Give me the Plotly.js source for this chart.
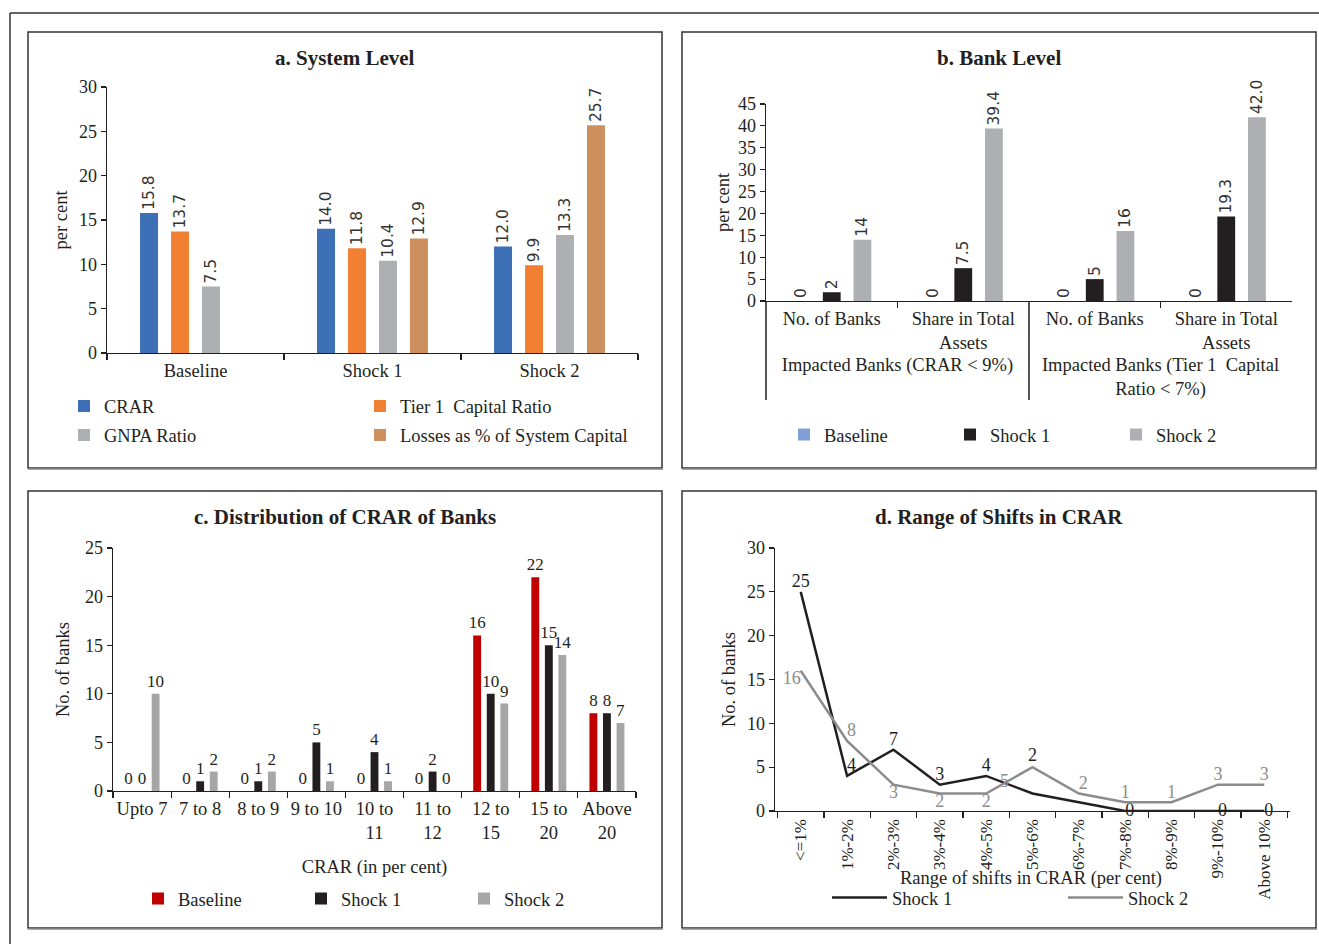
<!DOCTYPE html>
<html><head><meta charset="utf-8">
<script src="https://cdn.plot.ly/plotly-3.0.1.min.js"></script>
<style>html,body{margin:0;padding:0;background:#fff;overflow:hidden}#chart{width:1319px;height:944px}</style>
</head><body><div id="chart"></div>
<script>
// ---------- Panel a: System Level ----------
const aCategories = ['Baseline', 'Shock 1', 'Shock 2'];
const aCRAR   = [15.8, 14.0, 12.0];
const aTier1  = [13.7, 11.8, 9.9];
const aGNPA   = [7.5, 10.4, 13.3];
const aLosses = [null, 12.9, 25.7];

// ---------- Panel b: Bank Level ----------
const bGroups = ['Impacted Banks (CRAR &lt; 9%)', 'Impacted Banks (CRAR &lt; 9%)',
                 'Impacted Banks (Tier 1  Capital<br>Ratio &lt; 7%)', 'Impacted Banks (Tier 1  Capital<br>Ratio &lt; 7%)'];
const bSubs = ['No. of Banks', 'Share in Total<br>Assets', 'No. of Banks', 'Share in Total<br>Assets'];
const bBaseline = [0, 0, 0, 0];
const bShock1   = [2, 7.5, 5, 19.3];
const bShock2   = [14, 39.4, 16, 42.0];
const bBaselineLabels = ['0', '0', '0', '0'];
const bShock1Labels   = ['2', '7.5', '5', '19.3'];
const bShock2Labels   = ['14', '39.4', '16', '42.0'];

// ---------- Panel c: Distribution of CRAR of Banks ----------
const cCategories = ['Upto 7', '7 to 8', '8 to 9', '9 to 10', '10 to<br>11', '11 to<br>12', '12 to<br>15', '15 to<br>20', 'Above<br>20'];
const cBaseline = [0, 0, 0, 0, 0, 0, 16, 22, 8];
const cShock1   = [0, 1, 1, 5, 4, 2, 10, 15, 8];
const cShock2   = [10, 2, 2, 1, 1, 0, 9, 14, 7];

// ---------- Panel d: Range of Shifts in CRAR ----------
const dCategories = ['&lt;=1%', '1%-2%', '2%-3%', '3%-4%', '4%-5%', '5%-6%', '6%-7%', '7%-8%', '8%-9%', '9%-10%', 'Above 10%'];
const dShock1 = [25, 4, 7, 3, 4, 2, 1, 0, 0, 0, 0];
const dShock2 = [16, 8, 3, 2, 2, 5, 2, 1, 1, 3, 3];
const dShock1Labels = ['25', '4', '7', '3', '4', '2', '', '0', '', '0', '0'];
const dShock2Labels = ['16', '8', '3', '2', '2', '5', '2', '1', '1', '3', '3'];

// ---------- helpers / styles ----------
const W = 1319, H = 944;
const px = x => x / W;
const py = y => 1 - y / H;
const SERIF = 'Liberation Serif';
const INK = '#231f20';
const GREYLINE = '#8c8c8c';
const baseFont = {family: SERIF, size: 18.5, color: INK};
const numFont = {family: SERIF, size: 18, color: INK};
const dTickFont = {family: SERIF, size: 17, color: INK};
const cLabelFont = {family: SERIF, size: 17, color: INK};

// label at index 5 of panel d is placed separately (as in the source, off the default spot)
const SPECIAL = 5;
const dShock1Text = dShock1Labels.map((t, i) => i === SPECIAL ? '' : t);
const dShock2Text = dShock2Labels.map((t, i) => i === SPECIAL ? '' : t);

const yAxisBase = {
  showline: true, linecolor: INK, linewidth: 1.3, ticks: 'outside', ticklen: 5, tickcolor: INK, tickwidth: 1.2,
  showgrid: false, zeroline: false, tickfont: numFont, fixedrange: true
};
const xAxisBase = {
  showline: true, linecolor: INK, linewidth: 1.3, ticks: 'outside', ticklen: 6, tickcolor: INK, tickwidth: 1.2,
  tickson: 'boundaries', showgrid: false, zeroline: false, tickfont: baseFont, fixedrange: true
};

const rotLabel = {family: 'DejaVu Sans', size: 15.5, color: '#333'};

const traces = [
  // a
  {type: 'bar', name: 'CRAR', x: aCategories, y: aCRAR, xaxis: 'x', yaxis: 'y', marker: {color: '#3d6fb6'},
   texttemplate: '%{y:.1f}', textposition: 'outside', textangle: -90, constraintext: 'none', cliponaxis: false,
   textfont: rotLabel, legend: 'legend', legendgroup: 'a1', hoverinfo: 'skip'},
  {type: 'bar', name: 'Tier 1  Capital Ratio', x: aCategories, y: aTier1, xaxis: 'x', yaxis: 'y', marker: {color: '#f28033'},
   texttemplate: '%{y:.1f}', textposition: 'outside', textangle: -90, constraintext: 'none', cliponaxis: false,
   textfont: rotLabel, legend: 'legend2', legendgroup: 'a2', hoverinfo: 'skip'},
  {type: 'bar', name: 'GNPA Ratio', x: aCategories, y: aGNPA, xaxis: 'x', yaxis: 'y', marker: {color: '#adafb2'},
   texttemplate: '%{y:.1f}', textposition: 'outside', textangle: -90, constraintext: 'none', cliponaxis: false,
   textfont: rotLabel, legend: 'legend', legendgroup: 'a3', hoverinfo: 'skip'},
  {type: 'bar', name: 'Losses as % of System Capital', x: aCategories, y: aLosses, xaxis: 'x', yaxis: 'y', marker: {color: '#cd8f5e'},
   texttemplate: '%{y:.1f}', textposition: 'outside', textangle: -90, constraintext: 'none', cliponaxis: false,
   textfont: rotLabel, legend: 'legend2', legendgroup: 'a4', hoverinfo: 'skip'},
  // b
  {type: 'bar', name: 'Baseline', x: [bGroups, bSubs], y: bBaseline, xaxis: 'x2', yaxis: 'y2', marker: {color: '#7f9fd6'},
   text: bBaselineLabels, textposition: 'outside', textangle: -90, constraintext: 'none', cliponaxis: false,
   textfont: rotLabel, legend: 'legend3', hoverinfo: 'skip'},
  {type: 'bar', name: 'Shock 1', x: [bGroups, bSubs], y: bShock1, xaxis: 'x2', yaxis: 'y2', marker: {color: '#231f20'},
   text: bShock1Labels, textposition: 'outside', textangle: -90, constraintext: 'none', cliponaxis: false,
   textfont: rotLabel, legend: 'legend3', hoverinfo: 'skip'},
  {type: 'bar', name: 'Shock 2', x: [bGroups, bSubs], y: bShock2, xaxis: 'x2', yaxis: 'y2', marker: {color: '#adafb2'},
   text: bShock2Labels, textposition: 'outside', textangle: -90, constraintext: 'none', cliponaxis: false,
   textfont: rotLabel, legend: 'legend3', hoverinfo: 'skip'},
  // c
  {type: 'bar', name: 'Baseline', x: cCategories, y: cBaseline, xaxis: 'x3', yaxis: 'y3', marker: {color: '#c00000'},
   texttemplate: '%{y}', textposition: 'outside', textangle: 0, constraintext: 'none', cliponaxis: false,
   textfont: cLabelFont, legend: 'legend4', hoverinfo: 'skip'},
  {type: 'bar', name: 'Shock 1', x: cCategories, y: cShock1, xaxis: 'x3', yaxis: 'y3', marker: {color: '#231f20'},
   texttemplate: '%{y}', textposition: 'outside', textangle: 0, constraintext: 'none', cliponaxis: false,
   textfont: cLabelFont, legend: 'legend4', hoverinfo: 'skip'},
  {type: 'bar', name: 'Shock 2', x: cCategories, y: cShock2, xaxis: 'x3', yaxis: 'y3', marker: {color: '#a6a6a6'},
   texttemplate: '%{y}', textposition: 'outside', textangle: 0, constraintext: 'none', cliponaxis: false,
   textfont: cLabelFont, legend: 'legend4', hoverinfo: 'skip'},
  // d
  {type: 'scatter', mode: 'lines+text', name: 'Shock 1', x: dCategories, y: dShock1, xaxis: 'x4', yaxis: 'y4',
   line: {color: INK, width: 2.5}, text: dShock1Text,
   textposition: ['top center', 'top right', 'top center', 'top center', 'top center', 'top center', 'top center',
                  'middle right', 'top center', 'middle right', 'middle right'],
   textfont: {family: SERIF, size: 18, color: INK}, cliponaxis: false, legend: 'legend5', hoverinfo: 'skip'},
  {type: 'scatter', mode: 'lines+text', name: 'Shock 2', x: dCategories, y: dShock2, xaxis: 'x4', yaxis: 'y4',
   line: {color: GREYLINE, width: 2.5}, text: dShock2Text,
   textposition: ['bottom left', 'top right', 'bottom center', 'bottom center', 'bottom center', 'bottom left',
                  'top right', 'top center', 'top center', 'top center', 'top center'],
   textfont: {family: SERIF, size: 18, color: GREYLINE}, cliponaxis: false, legend: 'legend5', hoverinfo: 'skip'}
];

function legendAt(x, y, opts) {
  return Object.assign({x: px(x), y: py(y), xanchor: 'left', yanchor: 'middle', bgcolor: 'rgba(0,0,0,0)',
    borderwidth: 0, font: baseFont, itemclick: false, itemdoubleclick: false}, opts || {});
}

const titleFont = {family: SERIF, size: 21, color: INK, weight: 'bold'};
function panelTitle(text, x, y) {
  return {text: '<b>' + text + '</b>', xref: 'paper', yref: 'paper', x: px(x), y: py(y),
          xanchor: 'center', yanchor: 'middle', showarrow: false, font: titleFont};
}

const boxes = [[28, 32, 662, 468], [682, 32, 1316, 468], [28, 491, 662, 928], [682, 491, 1316, 928]];
const shapes = [];
boxes.forEach(b => {
  shapes.push({type: 'rect', xref: 'paper', yref: 'paper', x0: px(b[0]), y0: py(b[1]), x1: px(b[2]), y1: py(b[3]),
               line: {color: '#333', width: 1.5}});
  shapes.push({type: 'line', xref: 'paper', yref: 'paper', x0: px(b[0]), y0: py(b[3] + 1), x1: px(b[2] + 1), y1: py(b[3] + 1),
               line: {color: '#888', width: 1.5}});
});
// outer frame (left and top)
shapes.push({type: 'line', xref: 'paper', yref: 'paper', x0: px(10), y0: 0, x1: px(10), y1: py(13), line: {color: '#333', width: 1.5}});
shapes.push({type: 'line', xref: 'paper', yref: 'paper', x0: px(10), y0: py(13), x1: 1, y1: py(13), line: {color: '#333', width: 1.5}});

const layout = {
  width: W, height: H, autosize: false, margin: {l: 0, r: 0, t: 0, b: 0}, paper_bgcolor: '#fff', plot_bgcolor: 'rgba(0,0,0,0)',
  font: baseFont, showlegend: true, hovermode: false,
  barmode: 'group', bargap: 0.3, bargroupgap: 0.42,
  // a
  xaxis: Object.assign({}, xAxisBase, {domain: [px(107), px(638)], anchor: 'y', type: 'category'}),
  yaxis: Object.assign({}, yAxisBase, {domain: [py(353), py(87)], anchor: 'x', range: [0, 30], dtick: 5,
          title: {text: 'per cent', font: baseFont, standoff: 6}}),
  // b
  xaxis2: Object.assign({}, xAxisBase, {domain: [px(766), px(1292)], anchor: 'y2', type: 'multicategory',
          showdividers: true, dividercolor: '#555', dividerwidth: 1.5}),
  yaxis2: Object.assign({}, yAxisBase, {domain: [py(301), py(104)], anchor: 'x2', range: [0, 45], dtick: 5,
          title: {text: 'per cent', font: baseFont, standoff: 3}}),
  // c
  xaxis3: Object.assign({}, xAxisBase, {domain: [px(113), px(636)], anchor: 'y3', type: 'category', tickangle: 0,
          title: {text: 'CRAR (in per cent)', font: baseFont, standoff: 18}}),
  yaxis3: Object.assign({}, yAxisBase, {domain: [py(791), py(548)], anchor: 'x3', range: [0, 25], dtick: 5,
          title: {text: 'No. of banks', font: baseFont, standoff: 10}}),
  // d
  xaxis4: Object.assign({}, xAxisBase, {domain: [px(775), px(1290)], anchor: 'y4', type: 'category', tickangle: -90,
          tickfont: dTickFont}),
  yaxis4: Object.assign({}, yAxisBase, {domain: [py(811), py(548)], anchor: 'x4', range: [0, 30], dtick: 5,
          title: {text: 'No. of banks', font: baseFont, standoff: 6}}),
  legend:  legendAt(64, 421, {orientation: 'v', tracegroupgap: 2}),
  legend2: legendAt(360, 421, {orientation: 'v', tracegroupgap: 2}),
  legend3: legendAt(784, 435, {orientation: 'h', entrywidth: 121}),
  legend4: legendAt(138, 899, {orientation: 'h', entrywidth: 118}),
  legend5: legendAt(827, 898, {orientation: 'h', itemwidth: 55, entrywidth: 166}),
  annotations: [
    panelTitle('a. System Level', 345, 58),
    panelTitle('b. Bank Level', 999, 58),
    panelTitle('c. Distribution of CRAR of Banks', 345, 517),
    panelTitle('d. Range of Shifts in CRAR', 999, 517),
    {text: 'Range of shifts in CRAR (per cent)', xref: 'paper', yref: 'paper', x: px(1031), y: py(878),
     xanchor: 'center', yanchor: 'middle', showarrow: false, font: baseFont},
    // panel d labels for index 5, offset from their points
    {text: dShock1Labels[SPECIAL], xref: 'x4', yref: 'y4', x: dCategories[SPECIAL], y: dShock1[SPECIAL],
     xanchor: 'center', yanchor: 'bottom', yshift: 26, showarrow: false,
     font: {family: SERIF, size: 18, color: INK}},
    {text: dShock2Labels[SPECIAL], xref: 'x4', yref: 'y4', x: dCategories[SPECIAL], y: dShock2[SPECIAL],
     xanchor: 'right', yanchor: 'top', xshift: -22, yshift: -2, showarrow: false,
     font: {family: SERIF, size: 18, color: GREYLINE}}
  ],
  shapes: shapes
};

Plotly.newPlot('chart', traces, layout, {staticPlot: true, displayModeBar: false, responsive: false});
</script>
</body></html>
